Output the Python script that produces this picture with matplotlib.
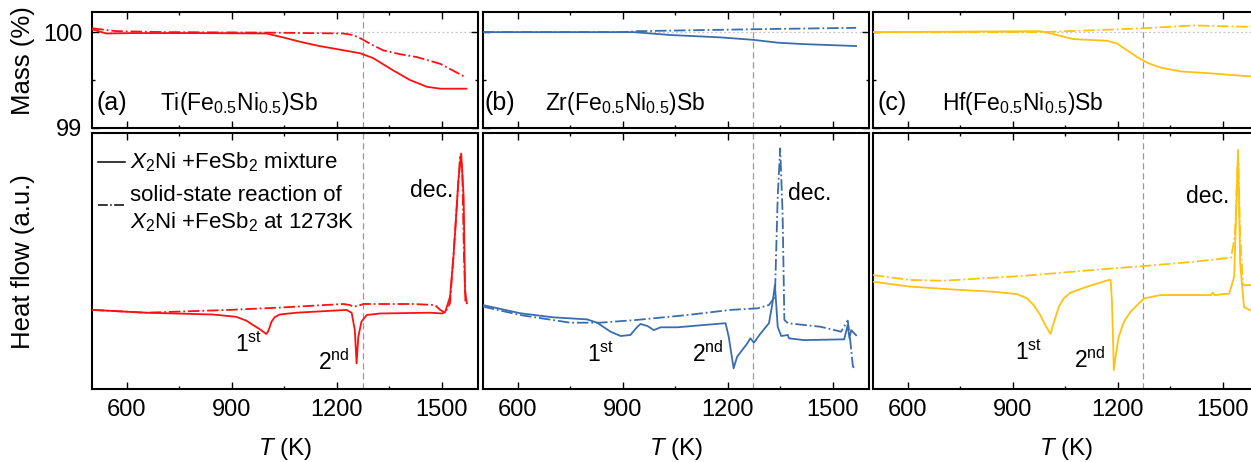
import matplotlib
matplotlib.use('Agg')
import matplotlib.pyplot as plt
from matplotlib.ticker import MultipleLocator, FixedLocator

plt.rcParams['font.family'] = ['Liberation Sans', 'DejaVu Sans']
plt.rcParams['mathtext.fontset'] = 'custom'
plt.rcParams['mathtext.rm'] = 'Liberation Sans'
plt.rcParams['mathtext.it'] = 'Liberation Sans:italic'
plt.rcParams['mathtext.bf'] = 'Liberation Sans:bold'

# ---- data ----
# TG, mass %
ti_tg_mix_T = [501, 540, 616, 800, 998, 1046, 1094, 1151, 1189, 1266, 1303, 1361, 1409, 1457, 1495, 1570]
ti_tg_mix = [100.03, 99.986, 99.99, 99.99, 99.986, 99.945, 99.90, 99.854, 99.83, 99.78, 99.73, 99.60, 99.50,
             99.43, 99.41, 99.41]
ti_tg_ssr_T = [501, 569, 712, 1000, 1218, 1246, 1270, 1294, 1332, 1380, 1428, 1495, 1562]
ti_tg_ssr = [100.04, 100.01, 100.0, 99.995, 99.986, 99.97, 99.93, 99.88, 99.81, 99.77, 99.74, 99.67, 99.54]

zr_tg_mix_T = [500, 931, 1037, 1180, 1272, 1343, 1418, 1567]
zr_tg_mix = [100.0, 100.0, 99.97, 99.945, 99.92, 99.89, 99.875, 99.855]
zr_tg_ssr_T = [500, 900, 942, 1272, 1567]
zr_tg_ssr = [100.0, 100.0, 100.01, 100.03, 100.045]

hf_tg_mix_T = [500, 979, 1008, 1037, 1074, 1132, 1170, 1199, 1227, 1256, 1285, 1323, 1380, 1466, 1571, 1590]
hf_tg_mix = [100.0, 100.01, 99.986, 99.96, 99.927, 99.917, 99.91, 99.88, 99.81, 99.74, 99.68, 99.63, 99.59,
             99.57, 99.54, 99.54]
hf_tg_ssr_T = [500, 980, 1131, 1272, 1418, 1514, 1590]
hf_tg_ssr = [100.0, 100.0, 100.02, 100.04, 100.07, 100.06, 100.055]

# DSC, heat flow (a.u.)
ti_dsc_mix_T = [501, 654, 845, 912, 941, 960, 979, 993, 998, 1003, 1008, 1013, 1022, 1036, 1084, 1227, 1242,
                1251, 1256, 1261, 1270, 1285, 1323, 1466, 1500, 1509, 1523, 1533, 1547, 1555, 1562, 1566, 1571]
ti_dsc_mix = [30.9, 29.8, 29.1, 28.2, 26.7, 25.0, 23.4, 22.0, 21.5, 22.4, 24.3, 26.3, 28.0, 29.1, 29.8, 30.9,
              29.8, 23.0, 10.0, 20.4, 26.3, 28.9, 29.5, 29.8, 29.5, 30.0, 36.0, 51.7, 81.6, 92.0, 75.0, 38.7, 33.5]
ti_dsc_ssr_T = [501, 654, 893, 1036, 1218, 1237, 1246, 1261, 1275, 1418, 1480, 1495, 1509, 1523, 1538,
                1552, 1558, 1563, 1567, 1573]
ti_dsc_ssr = [30.9, 29.8, 30.9, 31.8, 33.2, 32.8, 32.2, 32.5, 33.2, 33.2, 32.8, 30.9, 29.8, 33.5, 62.1,
              91.4, 85.5, 51.7, 34.1, 33.5]

zr_dsc_mix_T = [500, 607, 701, 798, 827, 865, 894, 922, 942, 951, 971, 989, 1008, 1056, 1132, 1194, 1203,
                1217, 1227, 1256, 1265, 1275, 1294, 1318, 1328, 1335, 1343, 1353, 1372, 1375, 1418, 1533,
                1543, 1548, 1553, 1567]
zr_dsc_mix = [32.8, 29.6, 28.0, 27.2, 25.9, 22.4, 20.7, 21.1, 24.3, 25.4, 24.6, 23.0, 24.1, 24.1, 25.0, 25.7,
              20.4, 8.1, 12.6, 17.8, 19.8, 18.1, 21.7, 25.7, 33.5, 40.6, 24.3, 20.7, 21.1, 19.8, 19.1, 19.4,
              25.0, 19.8, 23.0, 21.0]
zr_dsc_ssr_T = [500, 607, 750, 836, 942, 1085, 1208, 1285, 1318, 1335, 1343, 1350, 1357, 1362, 1372, 1466,
                1524, 1543, 1548, 1558, 1567]
zr_dsc_ssr = [32.2, 28.9, 25.9, 25.9, 27.0, 28.9, 30.9, 31.5, 32.8, 36.0, 75.0, 94.0, 68.6, 27.0, 25.7,
              24.3, 22.4, 26.7, 22.0, 8.7, 8.0]

hf_dsc_mix_T = [501, 607, 750, 845, 912, 941, 960, 979, 993, 1008, 1017, 1032, 1046, 1065, 1113, 1175, 1180,
                1184, 1189, 1194, 1203, 1218, 1237, 1275, 1323, 1467, 1472, 1477, 1519, 1533, 1544, 1550,
                1561, 1590]
hf_dsc_mix = [41.9, 40.0, 38.7, 38.0, 37.1, 35.4, 32.8, 28.9, 25.0, 21.5, 25.7, 32.2, 35.4, 37.6, 40.0, 42.6,
              42.6, 33.5, 7.4, 12.6, 20.4, 26.3, 30.2, 35.4, 36.7, 36.7, 37.6, 36.7, 37.3, 43.9, 93.4, 49.0,
              32.0, 30.0]
hf_dsc_ssr_T = [500, 607, 702, 941, 1131, 1272, 1418, 1524, 1535, 1544, 1550, 1558, 1590]
hf_dsc_ssr = [44.5, 42.6, 42.3, 44.3, 46.5, 48.0, 49.7, 51.3, 60.0, 92.0, 60.0, 40.6, 40.6]

panel_tags = ['(a)', '(b)', '(c)']
compounds = ['Ti(Fe$_{0.5}$Ni$_{0.5}$)Sb', 'Zr(Fe$_{0.5}$Ni$_{0.5}$)Sb', 'Hf(Fe$_{0.5}$Ni$_{0.5}$)Sb']
colors = ['#FF1010', '#3A6DAE', '#FFC20E']

# label positions (T, heat flow) for 1st / 2nd / dec.
first_pos = [(908, 14.5), (798, 10.7), (907, 11.3)]
second_pos = [(1146, 7.4), (1098, 10.4), (1074, 8.1)]
dec_pos = [(1409, 75.1), (1371, 73.8), (1395, 72.5)]
tag_T = [512, 506, 515]
compound_T = [693, 678, 699]

tg = [(ti_tg_mix_T, ti_tg_mix, ti_tg_ssr_T, ti_tg_ssr),
      (zr_tg_mix_T, zr_tg_mix, zr_tg_ssr_T, zr_tg_ssr),
      (hf_tg_mix_T, hf_tg_mix, hf_tg_ssr_T, hf_tg_ssr)]
dsc = [(ti_dsc_mix_T, ti_dsc_mix, ti_dsc_ssr_T, ti_dsc_ssr),
       (zr_dsc_mix_T, zr_dsc_mix, zr_dsc_ssr_T, zr_dsc_ssr),
       (hf_dsc_mix_T, hf_dsc_mix, hf_dsc_ssr_T, hf_dsc_ssr)]

T_react = 1273

W, H = 1251, 462
fig = plt.figure(figsize=(W / 100, H / 100), dpi=100)

lefts = [92, 482.7, 872.7]
aw = 386

for i in range(3):
    ax_t = fig.add_axes([lefts[i] / W, 334 / H, aw / W, 116 / H])
    ax_b = fig.add_axes([lefts[i] / W, 73 / H, aw / W, 256 / H])

    # mass
    mT, m, sT, s = tg[i]
    ax_t.axhline(100, color='#c4c4c4', lw=0.9, ls=(0, (1.5, 2)), zorder=1)
    ax_t.axvline(T_react, color='#999999', lw=0.9, ls=(0, (5, 3)), zorder=1)
    ax_t.plot(mT, m, color=colors[i], lw=1.3, zorder=3)
    ax_t.plot(sT, s, color=colors[i], lw=1.3, ls='-.', zorder=3)
    ax_t.set_ylim(99, 100.21)
    ax_t.yaxis.set_major_locator(FixedLocator([99, 100]))
    ax_t.yaxis.set_minor_locator(FixedLocator([99.5]))
    ax_t.text(tag_T[i], 99.19, panel_tags[i], fontsize=18)
    ax_t.text(compound_T[i], 99.19, compounds[i], fontsize=16.5)

    # heat flow
    mT, m, sT, s = dsc[i]
    ax_b.axvline(T_react, color='#999999', lw=0.9, ls=(0, (5, 3)), zorder=1)
    ax_b.plot(mT, m, color=colors[i], lw=1.3, zorder=3)
    ax_b.plot(sT, s, color=colors[i], lw=1.3, ls='-.', zorder=3)
    ax_b.set_ylim(0, 100)
    ax_b.text(*first_pos[i], '1$^{\\mathrm{st}}$', fontsize=16.5)
    ax_b.text(*second_pos[i], '2$^{\\mathrm{nd}}$', fontsize=16.5)
    ax_b.text(*dec_pos[i], 'dec.', fontsize=16.5)

    for ax in (ax_t, ax_b):
        ax.set_xlim(500, 1603)
        ax.xaxis.set_major_locator(MultipleLocator(300))
        ax.xaxis.set_minor_locator(MultipleLocator(150))
        for sp in ax.spines.values():
            sp.set_linewidth(1.5)
        ax.tick_params(which='both', direction='in', top=True, bottom=True, width=1, labelsize=17, pad=7)
        ax.tick_params(which='major', length=5)
        ax.tick_params(which='minor', length=2.5)

    ax_t.tick_params(which='both', left=True, right=True, labelbottom=False, labelleft=(i == 0))
    ax_b.tick_params(which='both', left=False, right=False, labelleft=False)

    ax_b.set_xlabel('$T$ (K)', fontsize=17.5, labelpad=11)

    if i == 0:
        # legend drawn by hand to match the spacing of the original
        ax_b.plot([0.016, 0.085], [0.887, 0.887], color='k', lw=1.1, transform=ax_b.transAxes)
        ax_b.plot([0.016, 0.085], [0.719, 0.719], color='k', lw=1.1, ls='-.', transform=ax_b.transAxes)
        ax_b.text(0.098, 0.862, '$X_2$Ni +FeSb$_2$ mixture', fontsize=16, transform=ax_b.transAxes)
        ax_b.text(0.098, 0.736, 'solid-state reaction of', fontsize=16, transform=ax_b.transAxes)
        ax_b.text(0.098, 0.628, '$X_2$Ni +FeSb$_2$ at 1273K', fontsize=16, transform=ax_b.transAxes)

fig.text(23 / W, 1 - 61 / H, 'Mass (%)', rotation=90, ha='center', va='center', fontsize=18.5)
fig.text(23 / W, 1 - 262 / H, 'Heat flow (a.u.)', rotation=90, ha='center', va='center', fontsize=18.5)

fig.savefig('out.png', dpi=100)
